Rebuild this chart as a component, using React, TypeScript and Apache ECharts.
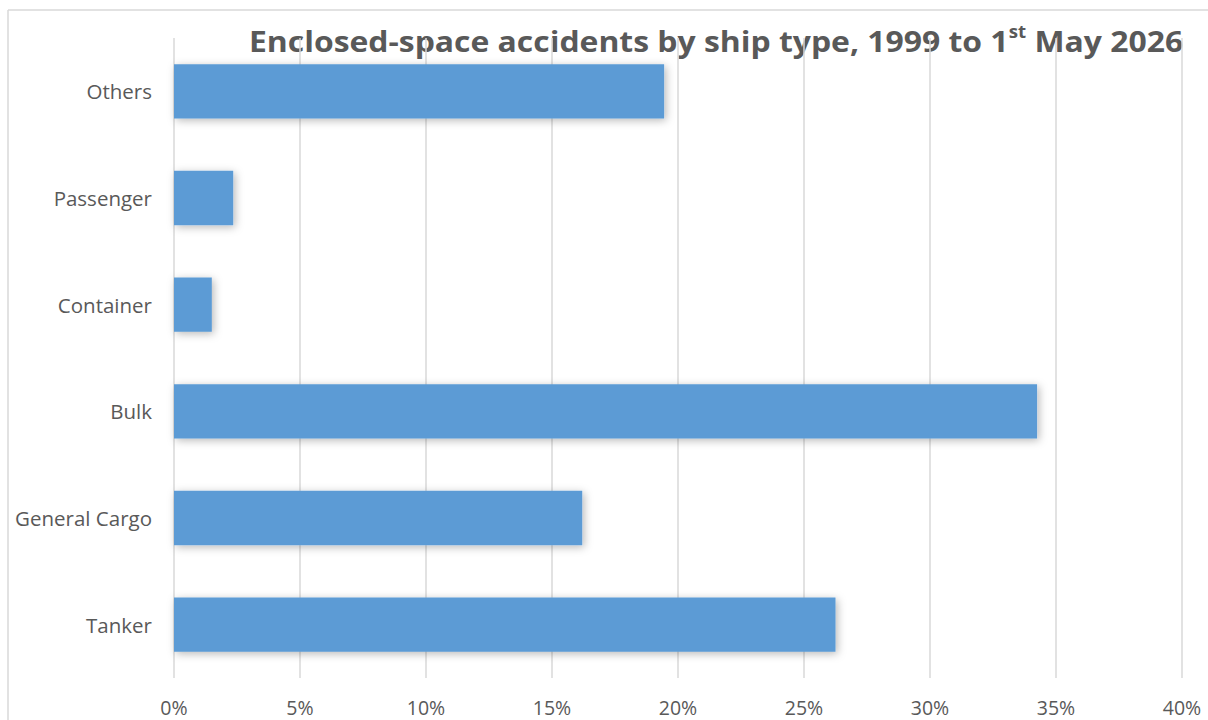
import React, { useEffect, useRef } from "react";
import * as echarts from "echarts";

const categories = ["Tanker", "General Cargo", "Bulk", "Container", "Passenger", "Others"];
const shares = [26.25, 16.2, 34.25, 1.5, 2.35, 19.45];
const xTicks = { min: 0, max: 40, interval: 5 };
const titleMain = "Enclosed-space accidents by ship type, 1999 to 1";
const titleSup = "st";
const titleEnd = " May 2026";

export default function App() {
  const ref = useRef<HTMLDivElement>(null);
  useEffect(() => {
    if (!ref.current) return;
    const chart = echarts.init(ref.current, null, { renderer: "svg" });
    chart.setOption({
      animation: false,
      backgroundColor: "#ffffff",
      textStyle: { fontFamily: "Open Sans" },
      grid: { left: 174, right: 26, top: 38, bottom: 42, containLabel: false },
      xAxis: {
        type: "value",
        min: xTicks.min,
        max: xTicks.max,
        interval: xTicks.interval,
        axisLine: { show: false },
        axisTick: { show: false },
        axisLabel: {
          formatter: "{value}%",
          color: "#595959",
          fontSize: 19.5,
          margin: 19,
          fontFamily: "Open Sans",
        },
        splitLine: { show: true, lineStyle: { color: "#d9d9d9", width: 1.5 } },
      },
      yAxis: {
        type: "category",
        data: categories,
        axisLine: { show: false },
        axisTick: { show: false },
        splitLine: { show: false },
        axisLabel: {
          color: "#595959",
          fontSize: 20.5,
          margin: 22,
          fontFamily: "Open Sans",
        },
      },
      series: [
        {
          type: "bar",
          data: shares,
          barCategoryGap: "49%",
          itemStyle: {
            color: "#5b9bd5",
            shadowBlur: 8,
            shadowColor: "rgba(0,0,0,0.28)",
            shadowOffsetX: 2,
            shadowOffsetY: 2,
          },
        },
      ],
      graphic: [
        {
          type: "line",
          shape: { x1: 8, y1: 10, x2: 1208, y2: 10 },
          style: { stroke: "#d9d9d9", lineWidth: 1.5 },
          silent: true,
        },
        {
          type: "line",
          shape: { x1: 8, y1: 10, x2: 8, y2: 720 },
          style: { stroke: "#d9d9d9", lineWidth: 1.5 },
          silent: true,
        },
        {
          type: "text",
          x: 716,
          y: 41,
          scaleX: 1.1,
          style: {
            text: "{m|" + titleMain + "}{s|" + titleSup + "}{m|" + titleEnd + "}",
            align: "center",
            verticalAlign: "middle",
            rich: {
              m: {
                fontFamily: "Open Sans",
                fontWeight: "bold",
                fontSize: 29,
                fill: "#595959",
                lineHeight: 36,
              },
              s: {
                fontFamily: "Open Sans",
                fontWeight: "bold",
                fontSize: 17,
                fill: "#595959",
                lineHeight: 36,
                verticalAlign: "top",
              },
            },
          },
        },
      ],
    });
    return () => chart.dispose();
  }, []);
  return (
    <div style={{ position: "absolute", left: 0, top: 0, width: 1208, height: 720, overflow: "hidden" }}>
      <div ref={ref} style={{ width: 1208, height: 720 }} />
    </div>
  );
}
